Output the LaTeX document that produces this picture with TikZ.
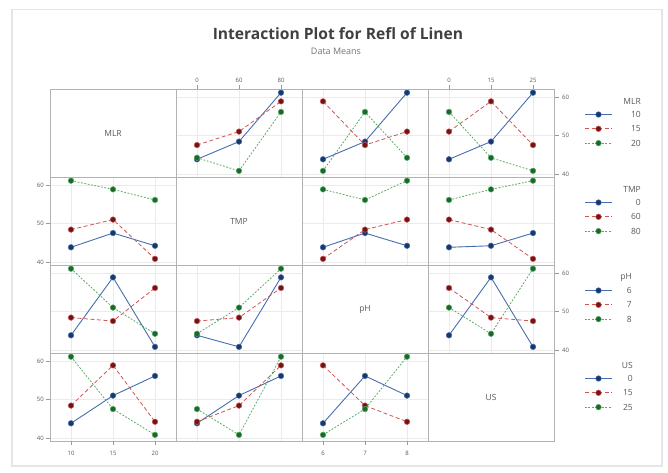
\documentclass[tikz,border=0pt]{standalone}
\usepackage{fontspec}
\setmainfont{Open Sans}
\newcommand{\tk}{\fontsize{6}{7}\selectfont}
\newcommand{\lgd}{\fontsize{8.5}{10}\selectfont}
\definecolor{lblue}{RGB}{70,110,175}
\definecolor{mblue}{RGB}{25,55,105}
\definecolor{lred}{RGB}{205,85,85}
\definecolor{mred}{RGB}{115,20,20}
\definecolor{lgreen}{RGB}{85,170,95}
\definecolor{mgreen}{RGB}{25,105,45}

\begin{document}
\begin{tikzpicture}[x=1pt, y=-1pt,
   ser0/.style={lblue, line width=0.9pt},
   ser1/.style={lred, line width=0.8pt, dash pattern=on 4pt off 2.5pt},
   ser2/.style={lgreen, line width=0.8pt, dash pattern=on 1.8pt off 1.6pt},
   mk0/.style={fill=mblue, draw=lblue, line width=0.5pt},
   mk1/.style={fill=mred, draw=lred, line width=0.5pt},
   mk2/.style={fill=mgreen, draw=lgreen, line width=0.5pt},
   gridl/.style={black!8, line width=0.5pt},
   txt/.style={text=black!65, inner sep=0pt}]
   \useasboundingbox (0,0) rectangle (668,472);
   \draw[black!10, line width=1.5pt] (12,9.5) rectangle (662,466);

   \node[text=black!75, font=\fontsize{15.6}{18}\selectfont\bfseries] (title) at (338,34) {Interaction Plot for Refl of Linen};
   \node[text=black!55, font=\fontsize{9}{11}\selectfont] (sub) at (336,51) {Data Means};

   \foreach \r in {0,...,3}
     \foreach \c in {0,...,3}{
       \ifnum\r=\c\else
         \foreach \i in {0,1,2}
           \draw[gridl] ({71+126*\c+42*\i},{89+88*\r}) -- ++(0,88);
         \foreach \v in {40,50,60}
           \draw[gridl] ({50+126*\c},{89+88*(\r+1)-(\v-39.2)*3.85}) -- ++(126,0);
       \fi
     }

   \foreach \n [count=\i from 0] in {MLR,TMP,pH,US}
     \node[txt, font=\lgd] (diag-\i) at ({113+126*\i},{133+88*\i}) {\n};

   \foreach \r/\c/\k/\va/\vb/\vc in {
      0/1/0/43.8/48.4/61.1, 0/1/1/47.5/51.0/58.85, 0/1/2/44.2/40.8/56.1,
      0/2/0/43.8/48.4/61.1, 0/2/1/58.85/47.5/51.0, 0/2/2/40.8/56.1/44.2,
      0/3/0/43.8/48.4/61.1, 0/3/1/51.0/58.85/47.5, 0/3/2/56.1/44.2/40.8,
      1/0/0/43.8/47.5/44.2, 1/0/1/48.4/51.0/40.8, 1/0/2/61.1/58.85/56.1,
      1/2/0/43.8/47.5/44.2, 1/2/1/40.8/48.4/51.0, 1/2/2/58.85/56.1/61.1,
      1/3/0/43.8/44.2/47.5, 1/3/1/51.0/48.4/40.8, 1/3/2/56.1/58.85/61.1,
      2/0/0/43.8/58.85/40.8, 2/0/1/48.4/47.5/56.1, 2/0/2/61.1/51.0/44.2,
      2/1/0/43.8/40.8/58.85, 2/1/1/47.5/48.4/56.1, 2/1/2/44.2/51.0/61.1,
      2/3/0/43.8/58.85/40.8, 2/3/1/56.1/48.4/47.5, 2/3/2/51.0/44.2/61.1,
      3/0/0/43.8/51.0/56.1, 3/0/1/48.4/58.85/44.2, 3/0/2/61.1/47.5/40.8,
      3/1/0/43.8/51.0/56.1, 3/1/1/44.2/48.4/58.85, 3/1/2/47.5/40.8/61.1,
      3/2/0/43.8/56.1/51.0, 3/2/1/58.85/48.4/44.2, 3/2/2/40.8/47.5/61.1}{
     \pgfmathsetmacro\xa{71+126*\c}
     \pgfmathsetmacro\ya{89+88*(\r+1)-(\va-39.2)*3.85}
     \pgfmathsetmacro\yb{89+88*(\r+1)-(\vb-39.2)*3.85}
     \pgfmathsetmacro\yc{89+88*(\r+1)-(\vc-39.2)*3.85}
     \draw[ser\k] (\xa,\ya) -- (\xa+42,\yb) -- (\xa+84,\yc);
     \filldraw[mk\k] (\xa,\ya) circle (2.8pt);
     \filldraw[mk\k] (\xa+42,\yb) circle (2.8pt);
     \filldraw[mk\k] (\xa+84,\yc) circle (2.8pt);
   }

   \foreach \r in {0,...,3}
     \foreach \c in {0,...,3}
       \draw[black!30, line width=0.9pt] ({50+126*\c},{89+88*\r}) rectangle ++(126,88);

   \foreach \c/\labs in {1/{0,60,80}, 3/{0,15,25}}
     \foreach \t [count=\i from 0] in \labs{
       \draw[black!40] ({71+126*\c+42*\i},85) -- ++(0,4);
       \node[txt, font=\tk] (top-\c-\i) at ({71+126*\c+42*\i},80) {\t};
     }
   \foreach \c/\labs in {0/{10,15,20}, 2/{6,7,8}}
     \foreach \t [count=\i from 0] in \labs{
       \draw[black!40] ({71+126*\c+42*\i},441) -- ++(0,4);
       \node[txt, font=\tk] (bot-\c-\i) at ({71+126*\c+42*\i},453) {\t};
     }
   \foreach \r in {1,3}
     \foreach \v in {40,50,60}{
       \draw[black!40] (46,{89+88*(\r+1)-(\v-39.2)*3.85}) -- ++(4,0);
       \node[txt, font=\tk, anchor=east] (left-\r-\v) at (44,{89+88*(\r+1)-(\v-39.2)*3.85}) {\v};
     }
   \foreach \r in {0,2}
     \foreach \v in {40,50,60}{
       \draw[black!40] (555,{89+88*(\r+1)-(\v-39.2)*3.85}) -- ++(4,0);
       \node[txt, font=\tk, anchor=west] (right-\r-\v) at (562,{89+88*(\r+1)-(\v-39.2)*3.85}) {\v};
     }

   \foreach \n/\labs/\xe [count=\r from 0] in {MLR/{10,15,20}/641, TMP/{0,60,80}/641, pH/{6,7,8}/632, US/{0,15,25}/633}{
     \node[txt, font=\lgd, anchor=east] (leg-\r) at (\xe,{89+88*\r+12}) {\n};
     \foreach \t [count=\k from 0] in \labs{
       \draw[ser\k] (585,{89+88*\r+25.5+14.3*\k}) -- (612,{89+88*\r+25.5+14.3*\k});
       \filldraw[mk\k] (598.5,{89+88*\r+25.5+14.3*\k}) circle (2.8pt);
       \node[txt, font=\lgd, anchor=east] (leg-\r-\k) at (\xe,{89+88*\r+25.5+14.3*\k}) {\t};
     }
   }
\end{tikzpicture}
\end{document}
